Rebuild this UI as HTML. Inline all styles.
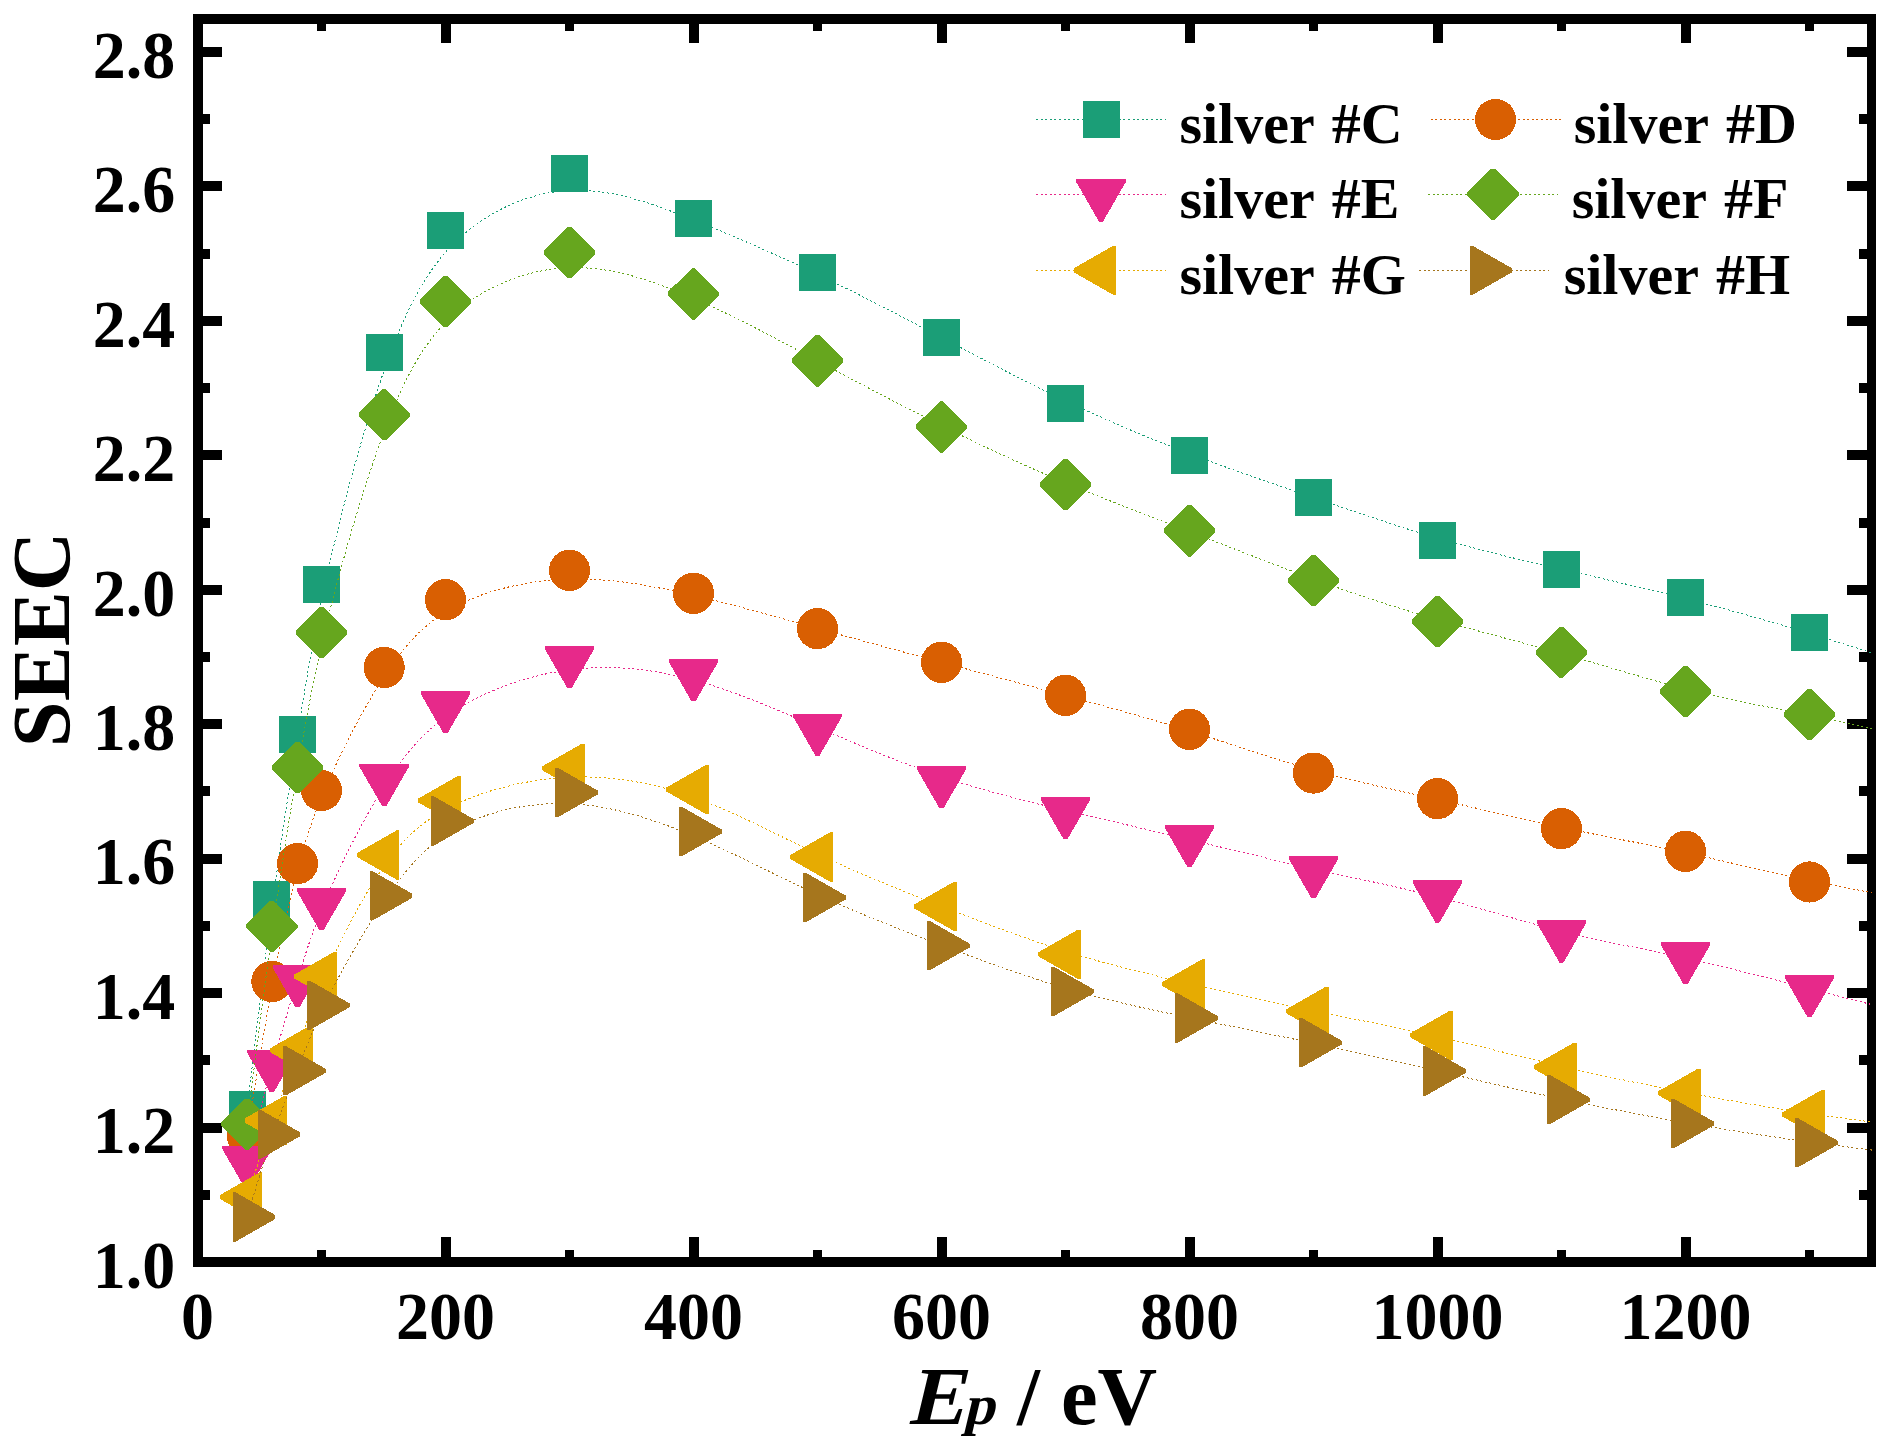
<!DOCTYPE html>
<html lang="en"><head><meta charset="utf-8"><title>SEEC vs Ep - silver samples</title>
<style>
html,body{margin:0;padding:0;background:#fff;}
body{width:1896px;height:1454px;overflow:hidden;}
svg{display:block;}
text{font-family:"Liberation Serif",serif;font-weight:bold;fill:#000;}
.tk{font-size:66px;}
.lg{font-size:58px;word-spacing:3.6px;}
.ax{font-size:82.5px;}
.ln{fill:none;stroke-width:1;stroke-dasharray:2 2.6;}
</style></head><body>
<svg width="1896" height="1454" viewBox="0 0 1896 1454">
<rect x="0" y="0" width="1896" height="1454" fill="#fff"/>
<g fill="#000" shape-rendering="crispEdges">
<rect x="193" y="14" width="1683" height="10"/>
<rect x="193" y="1257" width="1683" height="10"/>
<rect x="193" y="14" width="10" height="1253"/>
<rect x="1867" y="14" width="9" height="1253"/>
<rect x="317" y="1250" width="9" height="7"/>
<rect x="317" y="24" width="9" height="7"/>
<rect x="441" y="1237" width="10" height="20"/>
<rect x="441" y="24" width="10" height="19"/>
<rect x="565" y="1250" width="9" height="7"/>
<rect x="565" y="24" width="9" height="7"/>
<rect x="689" y="1237" width="10" height="20"/>
<rect x="689" y="24" width="10" height="19"/>
<rect x="813" y="1250" width="9" height="7"/>
<rect x="813" y="24" width="9" height="7"/>
<rect x="937" y="1237" width="10" height="20"/>
<rect x="937" y="24" width="10" height="19"/>
<rect x="1061" y="1250" width="9" height="7"/>
<rect x="1061" y="24" width="9" height="7"/>
<rect x="1185" y="1237" width="10" height="20"/>
<rect x="1185" y="24" width="10" height="19"/>
<rect x="1309" y="1250" width="9" height="7"/>
<rect x="1309" y="24" width="9" height="7"/>
<rect x="1433" y="1237" width="10" height="20"/>
<rect x="1433" y="24" width="10" height="19"/>
<rect x="1557" y="1250" width="9" height="7"/>
<rect x="1557" y="24" width="9" height="7"/>
<rect x="1681" y="1237" width="10" height="20"/>
<rect x="1681" y="24" width="10" height="19"/>
<rect x="1805" y="1250" width="9" height="7"/>
<rect x="1805" y="24" width="9" height="7"/>
<rect x="203" y="1190" width="7" height="10"/>
<rect x="1859" y="1190" width="8" height="10"/>
<rect x="203" y="1123" width="19" height="10"/>
<rect x="1847" y="1123" width="20" height="10"/>
<rect x="203" y="1055" width="7" height="10"/>
<rect x="1859" y="1055" width="8" height="10"/>
<rect x="203" y="988" width="19" height="10"/>
<rect x="1847" y="988" width="20" height="10"/>
<rect x="203" y="921" width="7" height="10"/>
<rect x="1859" y="921" width="8" height="10"/>
<rect x="203" y="854" width="19" height="10"/>
<rect x="1847" y="854" width="20" height="10"/>
<rect x="203" y="786" width="7" height="10"/>
<rect x="1859" y="786" width="8" height="10"/>
<rect x="203" y="719" width="19" height="10"/>
<rect x="1847" y="719" width="20" height="10"/>
<rect x="203" y="652" width="7" height="10"/>
<rect x="1859" y="652" width="8" height="10"/>
<rect x="203" y="585" width="19" height="10"/>
<rect x="1847" y="585" width="20" height="10"/>
<rect x="203" y="518" width="7" height="10"/>
<rect x="1859" y="518" width="8" height="10"/>
<rect x="203" y="450" width="19" height="10"/>
<rect x="1847" y="450" width="20" height="10"/>
<rect x="203" y="383" width="7" height="10"/>
<rect x="1859" y="383" width="8" height="10"/>
<rect x="203" y="316" width="19" height="10"/>
<rect x="1847" y="316" width="20" height="10"/>
<rect x="203" y="249" width="7" height="10"/>
<rect x="1859" y="249" width="8" height="10"/>
<rect x="203" y="181" width="19" height="10"/>
<rect x="1847" y="181" width="20" height="10"/>
<rect x="203" y="114" width="7" height="10"/>
<rect x="1859" y="114" width="8" height="10"/>
<rect x="203" y="47" width="19" height="10"/>
<rect x="1847" y="47" width="20" height="10"/>
</g>
<defs><clipPath id="plotclip"><rect x="198" y="19" width="1674" height="1243"/></clipPath></defs>
<g>
<path class="ln" shape-rendering="crispEdges" clip-path="url(#plotclip)" stroke="#1b9e77" d="M247.1 1109.8C247.1 1109.8 247.1 1109.8 251.23 1074.75C255.37 1039.7 263.63 969.6 272.03 907.05C280.43 844.5 288.97 789.5 297.23 737.02C305.5 684.53 313.5 634.57 327.95 570.92C342.4 507.27 363.3 429.93 383.97 370.93C404.63 311.93 425.07 271.27 455.95 241.4C486.83 211.53 528.17 192.47 569.5 190.43C610.83 188.4 652.17 203.4 693.5 219.93C734.83 236.47 776.17 254.53 817.5 274.37C858.83 294.2 900.17 315.8 941.5 337.53C982.83 359.27 1024.17 381.13 1065.5 400.8C1106.83 420.47 1148.17 437.93 1189.5 453.67C1230.83 469.4 1272.17 483.4 1313.5 497.57C1354.83 511.73 1396.17 526.07 1437.5 538.07C1478.83 550.07 1520.17 559.73 1561.5 569.23C1602.83 578.73 1644.17 588.07 1685.5 598.58C1726.83 609.1 1768.17 620.8 1809.5 633.35C1850.83 645.9 1892.17 659.3 1933.5 672.7C1974.83 686.1 2016.17 699.5 2036.83 706.2C2057.5 712.9 2057.5 712.9 2057.5 712.9"/>
<g shape-rendering="crispEdges">
<rect x="228.6" y="1091.3" width="37" height="37" fill="#1b9e77"/>
<rect x="253.4" y="881" width="37" height="37" fill="#1b9e77"/>
<rect x="279" y="716" width="37" height="37" fill="#1b9e77"/>
<rect x="303" y="566.1" width="37" height="37" fill="#1b9e77"/>
<rect x="365.7" y="334.1" width="37" height="37" fill="#1b9e77"/>
<rect x="427" y="212.1" width="37" height="37" fill="#1b9e77"/>
<rect x="551" y="154.9" width="37" height="37" fill="#1b9e77"/>
<rect x="675" y="199.9" width="37" height="37" fill="#1b9e77"/>
<rect x="799" y="254.1" width="37" height="37" fill="#1b9e77"/>
<rect x="923" y="318.9" width="37" height="37" fill="#1b9e77"/>
<rect x="1047" y="384.5" width="37" height="37" fill="#1b9e77"/>
<rect x="1171" y="436.9" width="37" height="37" fill="#1b9e77"/>
<rect x="1295" y="478.9" width="37" height="37" fill="#1b9e77"/>
<rect x="1419" y="521.9" width="37" height="37" fill="#1b9e77"/>
<rect x="1543" y="550.9" width="37" height="37" fill="#1b9e77"/>
<rect x="1667" y="578.9" width="37" height="37" fill="#1b9e77"/>
<rect x="1791" y="614" width="37" height="37" fill="#1b9e77"/>
</g></g>
<g>
<path class="ln" shape-rendering="crispEdges" clip-path="url(#plotclip)" stroke="#d95f02" d="M247.1 1135C247.1 1135 247.1 1135 251.23 1109.42C255.37 1083.83 263.63 1032.67 272.03 987.43C280.43 942.2 288.97 902.9 297.23 871.07C305.5 839.23 313.5 814.87 327.95 782.18C342.4 749.5 363.3 708.5 383.97 676.7C404.63 644.9 425.07 622.3 455.95 606.12C486.83 589.93 528.17 580.17 569.5 579.1C610.83 578.03 652.17 585.67 693.5 595.37C734.83 605.07 776.17 616.83 817.5 628.35C858.83 639.87 900.17 651.13 941.5 662.27C982.83 673.4 1024.17 684.4 1065.5 695.57C1106.83 706.73 1148.17 718.07 1189.5 731.02C1230.83 743.97 1272.17 758.53 1313.5 770.07C1354.83 781.6 1396.17 790.1 1437.5 799.35C1478.83 808.6 1520.17 818.6 1561.5 827.4C1602.83 836.2 1644.17 843.8 1685.5 852.7C1726.83 861.6 1768.17 871.8 1809.5 880.47C1850.83 889.13 1892.17 896.27 1933.5 903.4C1974.83 910.53 2016.17 917.67 2036.83 921.23C2057.5 924.8 2057.5 924.8 2057.5 924.8"/>
<g shape-rendering="crispEdges">
<circle cx="247.1" cy="1135" r="20.6" fill="#d95f02"/>
<circle cx="271.9" cy="981.5" r="20.6" fill="#d95f02"/>
<circle cx="297.5" cy="863.6" r="20.6" fill="#d95f02"/>
<circle cx="321.5" cy="790.5" r="20.6" fill="#d95f02"/>
<circle cx="384.2" cy="667.5" r="20.6" fill="#d95f02"/>
<circle cx="445.5" cy="599.7" r="20.6" fill="#d95f02"/>
<circle cx="569.5" cy="570.4" r="20.6" fill="#d95f02"/>
<circle cx="693.5" cy="593.3" r="20.6" fill="#d95f02"/>
<circle cx="817.5" cy="628.6" r="20.6" fill="#d95f02"/>
<circle cx="941.5" cy="662.4" r="20.6" fill="#d95f02"/>
<circle cx="1065.5" cy="695.4" r="20.6" fill="#d95f02"/>
<circle cx="1189.5" cy="729.4" r="20.6" fill="#d95f02"/>
<circle cx="1313.5" cy="773.1" r="20.6" fill="#d95f02"/>
<circle cx="1437.5" cy="798.6" r="20.6" fill="#d95f02"/>
<circle cx="1561.5" cy="828.6" r="20.6" fill="#d95f02"/>
<circle cx="1685.5" cy="851.4" r="20.6" fill="#d95f02"/>
<circle cx="1809.5" cy="882" r="20.6" fill="#d95f02"/>
</g></g>
<g>
<path class="ln" shape-rendering="crispEdges" clip-path="url(#plotclip)" stroke="#e7298a" d="M247.1 1160.4C247.1 1160.4 247.1 1160.4 251.23 1144.33C255.37 1128.27 263.63 1096.13 272.03 1065.93C280.43 1035.73 288.97 1007.47 297.23 980.5C305.5 953.53 313.5 927.87 327.95 894.35C342.4 860.83 363.3 819.47 383.97 786.63C404.63 753.8 425.07 729.5 455.95 709.85C486.83 690.2 528.17 675.2 569.5 669.85C610.83 664.5 652.17 668.8 693.5 680.02C734.83 691.23 776.17 709.37 817.5 727.22C858.83 745.07 900.17 762.63 941.5 776.55C982.83 790.47 1024.17 800.73 1065.5 810.53C1106.83 820.33 1148.17 829.67 1189.5 839.53C1230.83 849.4 1272.17 859.8 1313.5 869.02C1354.83 878.23 1396.17 886.27 1437.5 896.95C1478.83 907.63 1520.17 920.97 1561.5 931.28C1602.83 941.6 1644.17 948.9 1685.5 958.02C1726.83 967.13 1768.17 978.07 1809.5 988.72C1850.83 999.37 1892.17 1009.73 1933.5 1020.1C1974.83 1030.47 2016.17 1040.83 2036.83 1046.02C2057.5 1051.2 2057.5 1051.2 2057.5 1051.2"/>
<g shape-rendering="crispEdges">
<polygon points="222.3,1146.4 271.9,1146.4 271.9,1149 249.1,1188.6 245.1,1188.6 222.3,1149" fill="#e7298a"/>
<polygon points="247.1,1050 296.7,1050 296.7,1052.6 273.9,1092.2 269.9,1092.2 247.1,1052.6" fill="#e7298a"/>
<polygon points="272.7,965.2 322.3,965.2 322.3,967.8 299.5,1007.4 295.5,1007.4 272.7,967.8" fill="#e7298a"/>
<polygon points="296.7,888.2 346.3,888.2 346.3,890.8 323.5,930.4 319.5,930.4 296.7,890.8" fill="#e7298a"/>
<polygon points="359.4,764.1 409,764.1 409,766.7 386.2,806.3 382.2,806.3 359.4,766.7" fill="#e7298a"/>
<polygon points="420.7,691.2 470.3,691.2 470.3,693.8 447.5,733.4 443.5,733.4 420.7,693.8" fill="#e7298a"/>
<polygon points="544.7,646.2 594.3,646.2 594.3,648.8 571.5,688.4 567.5,688.4 544.7,648.8" fill="#e7298a"/>
<polygon points="668.7,659.1 718.3,659.1 718.3,661.7 695.5,701.3 691.5,701.3 668.7,661.7" fill="#e7298a"/>
<polygon points="792.7,713.5 842.3,713.5 842.3,716.1 819.5,755.7 815.5,755.7 792.7,716.1" fill="#e7298a"/>
<polygon points="916.7,766.2 966.3,766.2 966.3,768.8 943.5,808.4 939.5,808.4 916.7,768.8" fill="#e7298a"/>
<polygon points="1040.7,797 1090.3,797 1090.3,799.6 1067.5,839.2 1063.5,839.2 1040.7,799.6" fill="#e7298a"/>
<polygon points="1164.7,825 1214.3,825 1214.3,827.6 1191.5,867.2 1187.5,867.2 1164.7,827.6" fill="#e7298a"/>
<polygon points="1288.7,856.2 1338.3,856.2 1338.3,858.8 1315.5,898.4 1311.5,898.4 1288.7,858.8" fill="#e7298a"/>
<polygon points="1412.7,880.3 1462.3,880.3 1462.3,882.9 1439.5,922.5 1435.5,922.5 1412.7,882.9" fill="#e7298a"/>
<polygon points="1536.7,920.3 1586.3,920.3 1586.3,922.9 1563.5,962.5 1559.5,962.5 1536.7,922.9" fill="#e7298a"/>
<polygon points="1660.7,942.2 1710.3,942.2 1710.3,944.8 1687.5,984.4 1683.5,984.4 1660.7,944.8" fill="#e7298a"/>
<polygon points="1784.7,975 1834.3,975 1834.3,977.6 1811.5,1017.2 1807.5,1017.2 1784.7,977.6" fill="#e7298a"/>
</g></g>
<g>
<path class="ln" shape-rendering="crispEdges" clip-path="url(#plotclip)" stroke="#66a61e" d="M247.1 1124.2C247.1 1124.2 247.1 1124.2 251.23 1091.23C255.37 1058.27 263.63 992.33 272.03 932.88C280.43 873.43 288.97 820.47 297.23 771.48C305.5 722.5 313.5 677.5 327.95 618.7C342.4 559.9 363.3 487.3 383.97 432.17C404.63 377.03 425.07 339.37 455.95 312.35C486.83 285.33 528.17 268.97 569.5 267.68C610.83 266.4 652.17 280.2 693.5 298.25C734.83 316.3 776.17 338.6 817.5 360.77C858.83 382.93 900.17 404.97 941.5 425.61C982.83 446.25 1024.17 465.5 1065.5 482.82C1106.83 500.13 1148.17 515.52 1189.5 531.49C1230.83 547.47 1272.17 564.03 1313.5 579.09C1354.83 594.15 1396.17 607.7 1437.5 619.62C1478.83 631.53 1520.17 641.82 1561.5 653.52C1602.83 665.23 1644.17 678.37 1685.5 688.82C1726.83 699.27 1768.17 707.03 1809.5 715.39C1850.83 723.75 1892.17 732.7 1933.5 741.65C1974.83 750.6 2016.17 759.55 2036.83 764.02C2057.5 768.5 2057.5 768.5 2057.5 768.5"/>
<g shape-rendering="crispEdges">
<polygon points="221.4,1122.4 245.3,1098.6 248.9,1098.6 272.8,1122.4 272.8,1126 248.9,1149.8 245.3,1149.8 221.4,1126" fill="#66a61e"/>
<polygon points="246.2,924.6 270.1,900.8 273.7,900.8 297.6,924.6 297.6,928.2 273.7,952 270.1,952 246.2,928.2" fill="#66a61e"/>
<polygon points="271.8,765.7 295.7,741.9 299.3,741.9 323.2,765.7 323.2,769.3 299.3,793.1 295.7,793.1 271.8,769.3" fill="#66a61e"/>
<polygon points="295.8,630.7 319.7,606.9 323.3,606.9 347.2,630.7 347.2,634.3 323.3,658.1 319.7,658.1 295.8,634.3" fill="#66a61e"/>
<polygon points="358.5,412.9 382.4,389.1 386,389.1 409.9,412.9 409.9,416.5 386,440.3 382.4,440.3 358.5,416.5" fill="#66a61e"/>
<polygon points="419.8,299.9 443.7,276.1 447.3,276.1 471.2,299.9 471.2,303.5 447.3,327.3 443.7,327.3 419.8,303.5" fill="#66a61e"/>
<polygon points="543.8,250.8 567.7,227 571.3,227 595.2,250.8 595.2,254.4 571.3,278.2 567.7,278.2 543.8,254.4" fill="#66a61e"/>
<polygon points="667.8,292.2 691.7,268.4 695.3,268.4 719.2,292.2 719.2,295.8 695.3,319.6 691.7,319.6 667.8,295.8" fill="#66a61e"/>
<polygon points="791.8,359.1 815.7,335.3 819.3,335.3 843.2,359.1 843.2,362.7 819.3,386.5 815.7,386.5 791.8,362.7" fill="#66a61e"/>
<polygon points="915.8,425.2 939.7,401.4 943.3,401.4 967.2,425.2 967.2,428.8 943.3,452.6 939.7,452.6 915.8,428.8" fill="#66a61e"/>
<polygon points="1039.8,482.95 1063.7,459.15 1067.3,459.15 1091.2,482.95 1091.2,486.55 1067.3,510.35 1063.7,510.35 1039.8,486.55" fill="#66a61e"/>
<polygon points="1163.8,529.1 1187.7,505.3 1191.3,505.3 1215.2,529.1 1215.2,532.7 1191.3,556.5 1187.7,556.5 1163.8,532.7" fill="#66a61e"/>
<polygon points="1287.8,578.8 1311.7,555 1315.3,555 1339.2,578.8 1339.2,582.4 1315.3,606.2 1311.7,606.2 1287.8,582.4" fill="#66a61e"/>
<polygon points="1411.8,619.45 1435.7,595.65 1439.3,595.65 1463.2,619.45 1463.2,623.05 1439.3,646.85 1435.7,646.85 1411.8,623.05" fill="#66a61e"/>
<polygon points="1535.8,650.3 1559.7,626.5 1563.3,626.5 1587.2,650.3 1587.2,653.9 1563.3,677.7 1559.7,677.7 1535.8,653.9" fill="#66a61e"/>
<polygon points="1659.8,689.7 1683.7,665.9 1687.3,665.9 1711.2,689.7 1711.2,693.3 1687.3,717.1 1683.7,717.1 1659.8,693.3" fill="#66a61e"/>
<polygon points="1783.8,713 1807.7,689.2 1811.3,689.2 1835.2,713 1835.2,716.6 1811.3,740.4 1807.7,740.4 1783.8,716.6" fill="#66a61e"/>
</g></g>
<g>
<path class="ln" shape-rendering="crispEdges" clip-path="url(#plotclip)" stroke="#e6ab02" d="M247.1 1197C247.1 1197 247.1 1197 251.23 1184.25C255.37 1171.5 263.63 1146 272.03 1121.55C280.43 1097.1 288.97 1073.7 297.23 1049.7C305.5 1025.7 313.5 1001.1 327.95 968.55C342.4 936 363.3 895.5 383.97 866.17C404.63 836.83 425.07 818.67 455.95 804.22C486.83 789.77 528.17 779.03 569.5 777.2C610.83 775.37 652.17 782.43 693.5 797.22C734.83 812 776.17 834.5 817.5 853.98C858.83 873.47 900.17 889.93 941.5 906.15C982.83 922.37 1024.17 938.33 1065.5 951.27C1106.83 964.2 1148.17 974.1 1189.5 983.6C1230.83 993.1 1272.17 1002.2 1313.5 1010.75C1354.83 1019.3 1396.17 1027.3 1437.5 1036.62C1478.83 1045.93 1520.17 1056.57 1561.5 1066.22C1602.83 1075.87 1644.17 1084.53 1685.5 1092.4C1726.83 1100.27 1768.17 1107.33 1809.5 1113.43C1850.83 1119.53 1892.17 1124.67 1933.5 1129.8C1974.83 1134.93 2016.17 1140.07 2036.83 1142.63C2057.5 1145.2 2057.5 1145.2 2057.5 1145.2"/>
<g shape-rendering="crispEdges">
<polygon points="262.3,1172.4 262.3,1221.6 259.5,1221.6 219.9,1199 219.9,1195 259.5,1172.4" fill="#e6ab02"/>
<polygon points="287.1,1095.9 287.1,1145.1 284.3,1145.1 244.7,1122.5 244.7,1118.5 284.3,1095.9" fill="#e6ab02"/>
<polygon points="312.7,1025.7 312.7,1074.9 309.9,1074.9 270.3,1052.3 270.3,1048.3 309.9,1025.7" fill="#e6ab02"/>
<polygon points="336.7,951.9 336.7,1001.1 333.9,1001.1 294.3,978.5 294.3,974.5 333.9,951.9" fill="#e6ab02"/>
<polygon points="399.4,830.4 399.4,879.6 396.6,879.6 357,857 357,853 396.6,830.4" fill="#e6ab02"/>
<polygon points="460.7,775.9 460.7,825.1 457.9,825.1 418.3,802.5 418.3,798.5 457.9,775.9" fill="#e6ab02"/>
<polygon points="584.7,743.7 584.7,792.9 581.9,792.9 542.3,770.3 542.3,766.3 581.9,743.7" fill="#e6ab02"/>
<polygon points="708.7,764.9 708.7,814.1 705.9,814.1 666.3,791.5 666.3,787.5 705.9,764.9" fill="#e6ab02"/>
<polygon points="832.7,832.4 832.7,881.6 829.9,881.6 790.3,859 790.3,855 829.9,832.4" fill="#e6ab02"/>
<polygon points="956.7,881.8 956.7,931 953.9,931 914.3,908.4 914.3,904.4 953.9,881.8" fill="#e6ab02"/>
<polygon points="1080.7,929.7 1080.7,978.9 1077.9,978.9 1038.3,956.3 1038.3,952.3 1077.9,929.7" fill="#e6ab02"/>
<polygon points="1204.7,959.4 1204.7,1008.6 1201.9,1008.6 1162.3,986 1162.3,982 1201.9,959.4" fill="#e6ab02"/>
<polygon points="1328.7,986.7 1328.7,1035.9 1325.9,1035.9 1286.3,1013.3 1286.3,1009.3 1325.9,986.7" fill="#e6ab02"/>
<polygon points="1452.7,1010.7 1452.7,1059.9 1449.9,1059.9 1410.3,1037.3 1410.3,1033.3 1449.9,1010.7" fill="#e6ab02"/>
<polygon points="1576.7,1042.6 1576.7,1091.8 1573.9,1091.8 1534.3,1069.2 1534.3,1065.2 1573.9,1042.6" fill="#e6ab02"/>
<polygon points="1700.7,1068.6 1700.7,1117.8 1697.9,1117.8 1658.3,1095.2 1658.3,1091.2 1697.9,1068.6" fill="#e6ab02"/>
<polygon points="1824.7,1089.8 1824.7,1139 1821.9,1139 1782.3,1116.4 1782.3,1112.4 1821.9,1089.8" fill="#e6ab02"/>
</g></g>
<g>
<path class="ln" shape-rendering="crispEdges" clip-path="url(#plotclip)" stroke="#a6761d" d="M247.1 1217C247.1 1217 247.1 1217 251.23 1203.22C255.37 1189.43 263.63 1161.87 272.03 1137.5C280.43 1113.13 288.97 1091.97 297.23 1070.47C305.5 1048.97 313.5 1027.13 327.95 997.97C342.4 968.8 363.3 932.3 383.97 901.58C404.63 870.87 425.07 845.93 455.95 828.72C486.83 811.5 528.17 802 569.5 803.75C610.83 805.5 652.17 818.5 693.5 836C734.83 853.5 776.17 875.5 817.5 894.52C858.83 913.53 900.17 929.57 941.5 945.22C982.83 960.87 1024.17 976.13 1065.5 988.2C1106.83 1000.27 1148.17 1009.13 1189.5 1017.67C1230.83 1026.2 1272.17 1034.4 1313.5 1043.23C1354.83 1052.07 1396.17 1061.53 1437.5 1071.03C1478.83 1080.53 1520.17 1090.07 1561.5 1098.82C1602.83 1107.57 1644.17 1115.53 1685.5 1122.72C1726.83 1129.9 1768.17 1136.3 1809.5 1141.97C1850.83 1147.63 1892.17 1152.57 1933.5 1157.5C1974.83 1162.43 2016.17 1167.37 2036.83 1169.83C2057.5 1172.3 2057.5 1172.3 2057.5 1172.3"/>
<g shape-rendering="crispEdges">
<polygon points="232.8,1192.4 232.8,1241.6 235.6,1241.6 275.2,1219 275.2,1215 235.6,1192.4" fill="#a6761d"/>
<polygon points="257.6,1109.7 257.6,1158.9 260.4,1158.9 300,1136.3 300,1132.3 260.4,1109.7" fill="#a6761d"/>
<polygon points="283.2,1046.2 283.2,1095.4 286,1095.4 325.6,1072.8 325.6,1068.8 286,1046.2" fill="#a6761d"/>
<polygon points="307.2,980.7 307.2,1029.9 310,1029.9 349.6,1007.3 349.6,1003.3 310,980.7" fill="#a6761d"/>
<polygon points="369.9,871.2 369.9,920.4 372.7,920.4 412.3,897.8 412.3,893.8 372.7,871.2" fill="#a6761d"/>
<polygon points="431.2,796.4 431.2,845.6 434,845.6 473.6,823 473.6,819 434,796.4" fill="#a6761d"/>
<polygon points="555.2,767.9 555.2,817.1 558,817.1 597.6,794.5 597.6,790.5 558,767.9" fill="#a6761d"/>
<polygon points="679.2,806.9 679.2,856.1 682,856.1 721.6,833.5 721.6,829.5 682,806.9" fill="#a6761d"/>
<polygon points="803.2,872.9 803.2,922.1 806,922.1 845.6,899.5 845.6,895.5 806,872.9" fill="#a6761d"/>
<polygon points="927.2,921 927.2,970.2 930,970.2 969.6,947.6 969.6,943.6 930,921" fill="#a6761d"/>
<polygon points="1051.2,966.8 1051.2,1016 1054,1016 1093.6,993.4 1093.6,989.4 1054,966.8" fill="#a6761d"/>
<polygon points="1175.2,993.4 1175.2,1042.6 1178,1042.6 1217.6,1020 1217.6,1016 1178,993.4" fill="#a6761d"/>
<polygon points="1299.2,1018 1299.2,1067.2 1302,1067.2 1341.6,1044.6 1341.6,1040.6 1302,1018" fill="#a6761d"/>
<polygon points="1423.2,1046.4 1423.2,1095.6 1426,1095.6 1465.6,1073 1465.6,1069 1426,1046.4" fill="#a6761d"/>
<polygon points="1547.2,1075 1547.2,1124.2 1550,1124.2 1589.6,1101.6 1589.6,1097.6 1550,1075" fill="#a6761d"/>
<polygon points="1671.2,1098.9 1671.2,1148.1 1674,1148.1 1713.6,1125.5 1713.6,1121.5 1674,1098.9" fill="#a6761d"/>
<polygon points="1795.2,1118.1 1795.2,1167.3 1798,1167.3 1837.6,1144.7 1837.6,1140.7 1798,1118.1" fill="#a6761d"/>
</g></g>
<g>
<path class="ln" shape-rendering="crispEdges" stroke="#1b9e77" d="M1036 119.5H1166"/>
<g shape-rendering="crispEdges"><rect x="1082.5" y="101" width="37" height="37" fill="#1b9e77"/></g>
<text class="lg" x="1179.4" y="143">silver #C</text>
</g>
<g>
<path class="ln" shape-rendering="crispEdges" stroke="#e7298a" d="M1036 194.3H1166"/>
<g shape-rendering="crispEdges"><polygon points="1076.2,179.4 1125.8,179.4 1125.8,182 1103,221.6 1099,221.6 1076.2,182" fill="#e7298a"/></g>
<text class="lg" x="1179.4" y="218">silver #E</text>
</g>
<g>
<path class="ln" shape-rendering="crispEdges" stroke="#e6ab02" d="M1036 270.3H1166"/>
<g shape-rendering="crispEdges"><polygon points="1116.2,245.7 1116.2,294.9 1113.4,294.9 1073.8,272.3 1073.8,268.3 1113.4,245.7" fill="#e6ab02"/></g>
<text class="lg" x="1179.4" y="294">silver #G</text>
</g>
<g>
<path class="ln" shape-rendering="crispEdges" stroke="#d95f02" d="M1430.5 119.5H1560.5"/>
<g shape-rendering="crispEdges"><circle cx="1495.5" cy="119.5" r="20.6" fill="#d95f02"/></g>
<text class="lg" x="1573.7" y="143">silver #D</text>
</g>
<g>
<path class="ln" shape-rendering="crispEdges" stroke="#66a61e" d="M1428 194.3H1558"/>
<g shape-rendering="crispEdges"><polygon points="1467.3,192.5 1491.2,168.7 1494.8,168.7 1518.7,192.5 1518.7,196.1 1494.8,219.9 1491.2,219.9 1467.3,196.1" fill="#66a61e"/></g>
<text class="lg" x="1571.7" y="218">silver #F</text>
</g>
<g>
<path class="ln" shape-rendering="crispEdges" stroke="#a6761d" d="M1419 270.3H1549"/>
<g shape-rendering="crispEdges"><polygon points="1469.7,245.7 1469.7,294.9 1472.5,294.9 1512.1,272.3 1512.1,268.3 1472.5,245.7" fill="#a6761d"/></g>
<text class="lg" x="1563.7" y="294">silver #H</text>
</g>
<text class="tk" text-anchor="end" transform="translate(175.3 1287.8) scale(1 1.025)">1.0</text>
<text class="tk" text-anchor="end" transform="translate(175.3 1153.36) scale(1 1.025)">1.2</text>
<text class="tk" text-anchor="end" transform="translate(175.3 1018.92) scale(1 1.025)">1.4</text>
<text class="tk" text-anchor="end" transform="translate(175.3 884.48) scale(1 1.025)">1.6</text>
<text class="tk" text-anchor="end" transform="translate(175.3 750.04) scale(1 1.025)">1.8</text>
<text class="tk" text-anchor="end" transform="translate(175.3 615.6) scale(1 1.025)">2.0</text>
<text class="tk" text-anchor="end" transform="translate(175.3 481.16) scale(1 1.025)">2.2</text>
<text class="tk" text-anchor="end" transform="translate(175.3 346.72) scale(1 1.025)">2.4</text>
<text class="tk" text-anchor="end" transform="translate(175.3 212.28) scale(1 1.025)">2.6</text>
<text class="tk" text-anchor="end" transform="translate(175.3 77.84) scale(1 1.025)">2.8</text>
<text class="tk" text-anchor="middle" transform="translate(197.5 1338.5) scale(1 1.025)">0</text>
<text class="tk" text-anchor="middle" transform="translate(445.5 1338.5) scale(1 1.025)">200</text>
<text class="tk" text-anchor="middle" transform="translate(693.5 1338.5) scale(1 1.025)">400</text>
<text class="tk" text-anchor="middle" transform="translate(941.5 1338.5) scale(1 1.025)">600</text>
<text class="tk" text-anchor="middle" transform="translate(1189.5 1338.5) scale(1 1.025)">800</text>
<text class="tk" text-anchor="middle" transform="translate(1437.5 1338.5) scale(1 1.025)">1000</text>
<text class="tk" text-anchor="middle" transform="translate(1685.5 1338.5) scale(1 1.025)">1200</text>
<text class="ax" text-anchor="middle" transform="translate(69 639.5) rotate(-90)">SEEC</text>
<text class="ax" transform="translate(908 1424) skewX(-13.5)">E</text>
<text class="ax" style="font-size:56px" transform="translate(963 1424) skewX(-13.5)">p</text>
<text class="ax" y="1424"><tspan x="1017">/</tspan><tspan x="1061">eV</tspan></text>
</svg></body></html>
